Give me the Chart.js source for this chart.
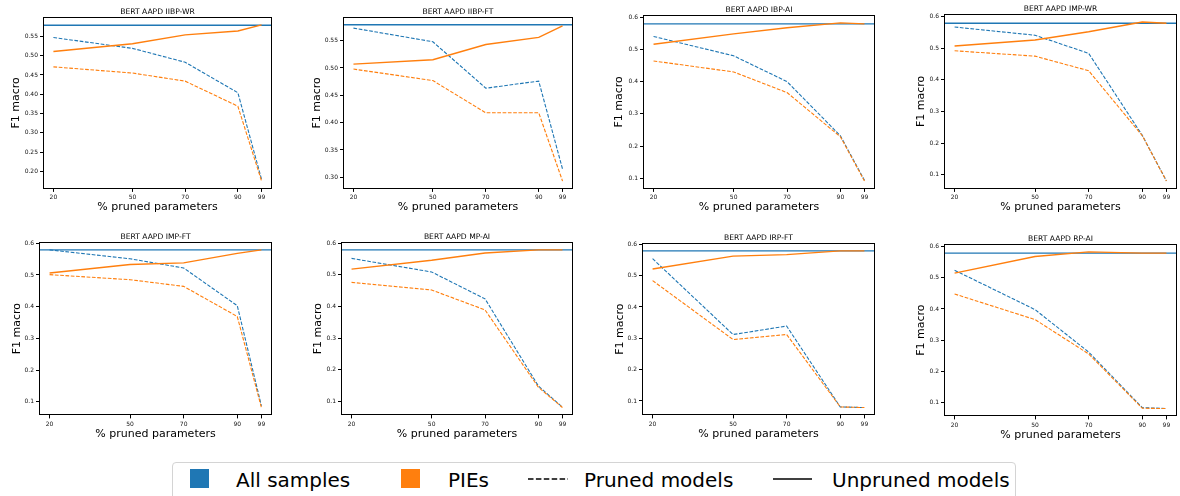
<!DOCTYPE html>
<html>
<head>
<meta charset="utf-8">
<script src="https://cdn.jsdelivr.net/npm/chart.js"></script>
<style>
html, body { margin: 0; padding: 0; background: #fff; }
body { width: 1180px; height: 496px; overflow: hidden; position: relative; font-family: "DejaVu Sans", sans-serif; }
canvas.sub { position: absolute; }
#legendBox { position: absolute; left: 172px; top: 462px; width: 844px; height: 44px; border: 1px solid #d4d4d4; border-radius: 4px; box-sizing: border-box; background: #fff; }
.lgText { position: absolute; font-size: 20px; line-height: 20px; color: #000; white-space: nowrap; }
.lgSwatch { position: absolute; width: 19px; height: 19px; }
svg.lgLine { position: absolute; overflow: visible; }
</style>
</head>
<body>
<div id="legendBox"></div>
<div class="lgSwatch" style="left:190px;top:469px;background:#1f77b4"></div>
<div class="lgText" style="left:236px;top:470px">All samples</div>
<div class="lgSwatch" style="left:401px;top:469px;background:#ff7f0e"></div>
<div class="lgText" style="left:448px;top:470px">PIEs</div>
<svg class="lgLine" style="left:528px;top:474px" width="41" height="10"><line x1="0" y1="5" x2="40" y2="5" stroke="#000" stroke-width="1.5" stroke-dasharray="5.5 2.4"/></svg>
<div class="lgText" style="left:584px;top:470px">Pruned models</div>
<svg class="lgLine" style="left:773px;top:474px" width="40" height="10"><line x1="0" y1="5" x2="39" y2="5" stroke="#000" stroke-width="1.6"/></svg>
<div class="lgText" style="left:832px;top:470px">Unpruned models</div>

<script>
// ---------------- DATA ----------------
const xValues = [20, 50, 70, 90, 99];
const xTickLabels = ['20', '50', '70', '90', '99'];
const subplotTitles = ['BERT AAPD IIBP-WR', 'BERT AAPD IIBP-FT', 'BERT AAPD IBP-AI', 'BERT AAPD IMP-WR',
                       'BERT AAPD IMP-FT', 'BERT AAPD MP-AI', 'BERT AAPD IRP-FT', 'BERT AAPD RP-AI'];
const xAxisTitle = '% pruned parameters';
const yAxisTitle = 'F1 macro';

const allSamplesUnpruned = [0.579];

const iibpWrAllPruned    = [0.547, 0.519, 0.483, 0.404, 0.179];
const iibpWrPiesPruned   = [0.471, 0.455, 0.434, 0.369, 0.175];
const iibpWrPiesUnpruned = [0.511, 0.531, 0.554, 0.564, 0.580];

const iibpFtAllPruned    = [0.573, 0.548, 0.463, 0.476, 0.315];
const iibpFtPiesPruned   = [0.498, 0.477, 0.418, 0.418, 0.293];
const iibpFtPiesUnpruned = [0.507, 0.515, 0.543, 0.556, 0.577];

const ibpAiAllPruned     = [0.540, 0.480, 0.400, 0.232, 0.094];
const ibpAiPiesPruned    = [0.464, 0.430, 0.366, 0.229, 0.092];
const ibpAiPiesUnpruned  = [0.516, 0.548, 0.567, 0.582, 0.579];

const impWrAllPruned     = [0.567, 0.541, 0.484, 0.225, 0.081];
const impWrPiesPruned    = [0.492, 0.475, 0.429, 0.224, 0.081];
const impWrPiesUnpruned  = [0.507, 0.526, 0.552, 0.583, 0.579];

const impFtAllPruned     = [0.579, 0.551, 0.522, 0.403, 0.087];
const impFtPiesPruned    = [0.501, 0.485, 0.464, 0.369, 0.082];
const impFtPiesUnpruned  = [0.506, 0.533, 0.538, 0.568, 0.579];

const mpAiAllPruned      = [0.552, 0.509, 0.424, 0.148, 0.081];
const mpAiPiesPruned     = [0.476, 0.452, 0.389, 0.144, 0.080];
const mpAiPiesUnpruned   = [0.518, 0.546, 0.569, 0.579, 0.579];

const irpFtAllPruned     = [0.554, 0.312, 0.339, 0.081, 0.079];
const irpFtPiesPruned    = [0.484, 0.296, 0.312, 0.081, 0.079];
const irpFtPiesUnpruned  = [0.521, 0.562, 0.567, 0.579, 0.579];

const rpAiAllPruned      = [0.524, 0.398, 0.262, 0.084, 0.081];
const rpAiPiesPruned     = [0.448, 0.366, 0.256, 0.082, 0.081];
const rpAiPiesUnpruned   = [0.515, 0.568, 0.583, 0.579, 0.579];

const yTicksA = [0.20, 0.25, 0.30, 0.35, 0.40, 0.45, 0.50, 0.55];
const yTickLabelsA = ['0.20', '0.25', '0.30', '0.35', '0.40', '0.45', '0.50', '0.55'];
const yTicksB = [0.30, 0.35, 0.40, 0.45, 0.50, 0.55];
const yTickLabelsB = ['0.30', '0.35', '0.40', '0.45', '0.50', '0.55'];
const yTicksC = [0.1, 0.2, 0.3, 0.4, 0.5, 0.6];
const yTickLabelsC = ['0.1', '0.2', '0.3', '0.4', '0.5', '0.6'];

// ---------------- LAYOUT / STYLE ----------------
const BLUE = '#1f77b4', ORANGE = '#ff7f0e';
const FONT = '"DejaVu Sans", sans-serif';
// axes boxes [left, top, right, bottom]
const boxes = [
  [43, 17, 272, 188], [343, 17, 573, 188], [643, 15, 875, 188], [944, 14, 1177, 188],
  [39, 242, 272, 415], [341, 242, 573, 415], [642, 243, 875, 415], [944, 244, 1177, 416]
];
const yLabelGap = [27, 26, 24, 23, 21.5, 22.5, 22, 23];
const xLabelGap = [18.5, 18.5, 18.5, 18.5, 19, 19, 19, 19];

const panels = [
  [iibpWrAllPruned, iibpWrPiesPruned, iibpWrPiesUnpruned, yTicksA, yTickLabelsA],
  [iibpFtAllPruned, iibpFtPiesPruned, iibpFtPiesUnpruned, yTicksB, yTickLabelsB],
  [ibpAiAllPruned, ibpAiPiesPruned, ibpAiPiesUnpruned, yTicksC, yTickLabelsC],
  [impWrAllPruned, impWrPiesPruned, impWrPiesUnpruned, yTicksC, yTickLabelsC],
  [impFtAllPruned, impFtPiesPruned, impFtPiesUnpruned, yTicksC, yTickLabelsC],
  [mpAiAllPruned, mpAiPiesPruned, mpAiPiesUnpruned, yTicksC, yTickLabelsC],
  [irpFtAllPruned, irpFtPiesPruned, irpFtPiesUnpruned, yTicksC, yTickLabelsC],
  [rpAiAllPruned, rpAiPiesPruned, rpAiPiesUnpruned, yTicksC, yTickLabelsC]
];

// matplotlib-like 5% margins
const xMinData = Math.min(...xValues), xMaxData = Math.max(...xValues);
const xPad = (xMaxData - xMinData) * 0.05;
const xMin = xMinData - xPad, xMax = xMaxData + xPad;

const framePlugin = {
  id: 'frameAndTitle',
  afterDraw(chart, args, opts) {
    const {ctx, chartArea: a} = chart;
    ctx.save();
    ctx.strokeStyle = '#000';
    ctx.lineWidth = 1;
    ctx.strokeRect(Math.round(a.left) + 0.5, Math.round(a.top) + 0.5,
                   Math.round(a.right - a.left) - 1, Math.round(a.bottom - a.top) - 1);
    ctx.fillStyle = '#000';
    ctx.font = '7.6px ' + FONT;
    ctx.textAlign = 'center';
    ctx.textBaseline = 'alphabetic';
    ctx.fillText(opts.text, (a.left + a.right) / 2, a.top - 3.5);
    ctx.restore();
  }
};

const PAD_TOP = 16, PAD_LEFT = 2, PAD_RIGHT = 3, PAD_BOTTOM = 2;

panels.forEach((p, i) => {
  const [allPruned, piesPruned, piesUnpruned, yTicks, yTickLabels] = p;
  const [l, t, r, b] = boxes[i];
  const lh = 11 * 1.2;
  const Wy = yLabelGap[i] + lh / 2;
  const Hx = xLabelGap[i] + lh / 2;

  const allVals = [...allPruned, ...piesPruned, ...piesUnpruned, ...allSamplesUnpruned];
  const yMinD = Math.min(...allVals), yMaxD = Math.max(...allVals);
  const yPad = (yMaxD - yMinD) * 0.05;

  const cLeft = Math.round(l - Wy - PAD_LEFT);
  const cTop = t - PAD_TOP;
  const cW = r + PAD_RIGHT - cLeft;
  const cH = Math.ceil(b + Hx + PAD_BOTTOM - cTop);

  const cv = document.createElement('canvas');
  cv.className = 'sub';
  cv.width = cW; cv.height = cH;
  cv.style.left = cLeft + 'px'; cv.style.top = cTop + 'px';
  cv.style.width = cW + 'px'; cv.style.height = cH + 'px';
  document.body.appendChild(cv);

  const pts = arr => xValues.map((x, k) => ({x: x, y: arr[k]}));

  new Chart(cv, {
    type: 'line',
    data: {
      datasets: [
        {data: pts(piesUnpruned), borderColor: ORANGE, borderWidth: 1.4},
        {data: pts(piesPruned), borderColor: ORANGE, borderWidth: 1.1, borderDash: [3.7, 1.6]},
        {data: [{x: xMin, y: allSamplesUnpruned[0]}, {x: xMax, y: allSamplesUnpruned[0]}], borderColor: BLUE, borderWidth: 1.4},
        {data: pts(allPruned), borderColor: BLUE, borderWidth: 1.1, borderDash: [3.7, 1.6]}
      ]
    },
    options: {
      responsive: false,
      animation: false,
      devicePixelRatio: 1,
      parsing: false,
      elements: {point: {radius: 0}, line: {tension: 0, fill: false}},
      layout: {padding: {left: l - Wy - cLeft, top: PAD_TOP, right: PAD_RIGHT, bottom: PAD_BOTTOM}},
      plugins: {
        legend: {display: false},
        tooltip: {enabled: false},
        title: {display: false},
        frameAndTitle: {text: subplotTitles[i]}
      },
      scales: {
        x: {
          type: 'linear', min: xMin, max: xMax,
          afterBuildTicks: s => { s.ticks = xValues.map(v => ({value: v})); },
          afterFit: s => { s.height = Hx; },
          ticks: {
            autoSkip: false, maxRotation: 0, minRotation: 0, padding: 2,
            font: {size: 6, family: FONT}, color: '#111',
            callback: v => xTickLabels[xValues.indexOf(v)]
          },
          grid: {display: true, drawOnChartArea: false, tickLength: 3, color: '#000', lineWidth: 1},
          border: {display: false},
          title: {display: true, text: xAxisTitle, font: {size: 11, family: FONT}, color: '#000', padding: 0}
        },
        y: {
          type: 'linear', min: yMinD - yPad, max: yMaxD + yPad,
          afterBuildTicks: s => { s.ticks = yTicks.map(v => ({value: v})); },
          afterFit: s => { s.width = Wy; },
          ticks: {
            autoSkip: false, padding: 2,
            font: {size: 6, family: FONT}, color: '#111',
            callback: v => yTickLabels[yTicks.findIndex(tv => Math.abs(tv - v) < 1e-9)]
          },
          grid: {display: true, drawOnChartArea: false, tickLength: 3, color: '#000', lineWidth: 1},
          border: {display: false},
          title: {display: true, text: yAxisTitle, font: {size: 11, family: FONT}, color: '#000', padding: 0}
        }
      }
    },
    plugins: [framePlugin]
  });
});
</script>
</body>
</html>
